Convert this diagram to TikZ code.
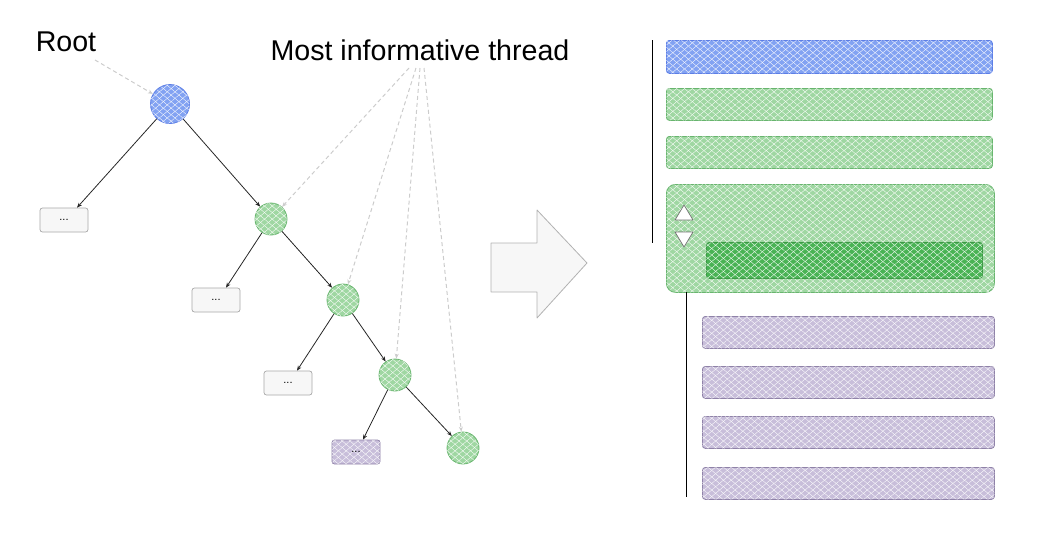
\documentclass[tikz,border=0pt]{standalone}
\usepackage{fontspec}
\setmainfont{Liberation Sans}
\usetikzlibrary{arrows.meta,patterns.meta}
\definecolor{bluefill}{HTML}{82A2F2}
\definecolor{bluedraw}{HTML}{5C7EE6}
\definecolor{greenfill}{HTML}{9FD7A2}
\definecolor{greendraw}{HTML}{68B56E}
\definecolor{darkgreen}{HTML}{49B354}
\definecolor{darkgreendraw}{HTML}{3C9A45}
\definecolor{purplefill}{HTML}{C8BEDA}
\definecolor{purpledraw}{HTML}{8F82A8}
\definecolor{boxdraw}{HTML}{A8A8A8}
\definecolor{dashgray}{HTML}{CCCCCC}
\tikzset{
  hatch/.style={postaction={pattern={Lines[angle=40,distance=5pt,line width=0.35pt]}, pattern color=white, fill opacity=0.45},
                postaction={pattern={Lines[angle=-40,distance=5pt,line width=0.35pt]}, pattern color=white, fill opacity=0.45}},
  lbl/.style={font=\fontsize{28.6}{32}\selectfont, inner sep=0pt},
  rootnode/.style={circle, draw=bluedraw, fill=bluefill, hatch, line width=0.8pt, minimum size=39pt, inner sep=0pt},
  gnode/.style={circle, draw=greendraw, fill=greenfill, hatch, line width=0.8pt, minimum size=32pt, inner sep=0pt},
  leaf/.style={rectangle, rounded corners=2.5pt, draw=boxdraw, fill=white!97!black, line width=0.7pt, minimum width=48pt, minimum height=24pt, inner sep=0pt, font=\fontsize{11}{11}\selectfont},
  pleaf/.style={leaf, draw=purpledraw, fill=purplefill, hatch},
  edge/.style={draw=black!85, line width=0.8pt, -{Stealth[length=5pt,width=4pt]}},
  dashedge/.style={draw=dashgray, line width=1pt, dashed, dash pattern=on 4pt off 3pt, -{Stealth[length=5pt,width=4pt]}},
  bar/.style={rectangle, rounded corners=3pt, line width=0.8pt, inner sep=0pt, anchor=north west, hatch},
  bbar/.style={bar, draw=bluedraw, fill=bluefill},
  gbar/.style={bar, draw=greendraw, fill=greenfill},
  pbar/.style={bar, draw=purpledraw, fill=purplefill},
  tri/.style={draw=black!55, fill=white, line width=0.7pt, line join=round},
  vline/.style={draw=black, line width=1pt},
}
\begin{document}
\begin{tikzpicture}[x=1pt, y=-1pt]
\useasboundingbox (0,0) rectangle (1056,552);
% labels
\node[lbl] (rootlbl) at (66,42) {Root};
\node[lbl] (threadlbl) at (420,50) {Most informative thread};
% tree nodes
\node[rootnode] (root) at (170,104) {};
\node[leaf] (l1) at (64,220) {...};
\node[gnode] (g1) at (271,219) {};
\node[leaf] (l2) at (216,300) {...};
\node[gnode] (g2) at (343,300) {};
\node[leaf] (l3) at (288,383) {...};
\node[gnode] (g3) at (395,375) {};
\node[pleaf] (l4) at (356,452) {...};
\node[gnode] (g4) at (463,448) {};
% tree edges
\draw[edge] (root) -- (l1.north -| 77,0);
\draw[edge] (root) -- (g1);
\draw[edge] (g1) -- (l2.north -| 226,0);
\draw[edge] (g1) -- (g2);
\draw[edge] (g2) -- (l3.north -| 297,0);
\draw[edge] (g2) -- (g3);
\draw[edge] (g3) -- (l4.north -| 363,0);
\draw[edge] (g3) -- (g4);
% dashed pointers
\coordinate (rs) at (95,60);
\coordinate (t1) at (409,68);
\coordinate (t2) at (416,68);
\coordinate (t3) at (420,68);
\coordinate (t4) at (424,68);
\draw[dashedge] (rs) -- (root);
\draw[dashedge] (t1) -- (g1);
\draw[dashedge] (t2) -- (g2);
\draw[dashedge] (t3) -- (g3);
\draw[dashedge] (t4) -- (g4);
% big arrow
\draw[draw=black!30, fill=white!97!black, line width=0.8pt, line join=round]
  (491,243) -- (537,243) -- (537,210) -- (587,263) -- (537,318) -- (537,292) -- (491,292) -- cycle;
% right panel
\coordinate (v1a) at (652,40);
\coordinate (v1b) at (652,243);
\draw[vline] (v1a) -- (v1b);
\node[bbar, minimum width=326pt, minimum height=33pt] (b0) at (666,40) {};
\node[gbar, minimum width=326pt, minimum height=32pt] (b1) at (666,88) {};
\node[gbar, minimum width=326pt, minimum height=32pt] (b2) at (666,136) {};
\node[gbar, rounded corners=9pt, minimum width=328pt, minimum height=108pt] (big) at (666,184) {};
\node[bar, draw=darkgreendraw, fill=darkgreen, minimum width=276pt, minimum height=36pt] (inner) at (706,242) {};
\draw[tri] (675,220) -- (693,220) -- (684,205) -- cycle;
\draw[tri] (675,232) -- (693,232) -- (684,247) -- cycle;
\coordinate (v2a) at (686,292);
\coordinate (v2b) at (686,497);
\draw[vline] (v2a) -- (v2b);
\node[pbar, minimum width=292pt, minimum height=32pt] (p1) at (702,316) {};
\node[pbar, minimum width=292pt, minimum height=32pt] (p2) at (702,366) {};
\node[pbar, minimum width=292pt, minimum height=32pt] (p3) at (702,416) {};
\node[pbar, minimum width=292pt, minimum height=32pt] (p4) at (702,467) {};
\end{tikzpicture}
\end{document}
